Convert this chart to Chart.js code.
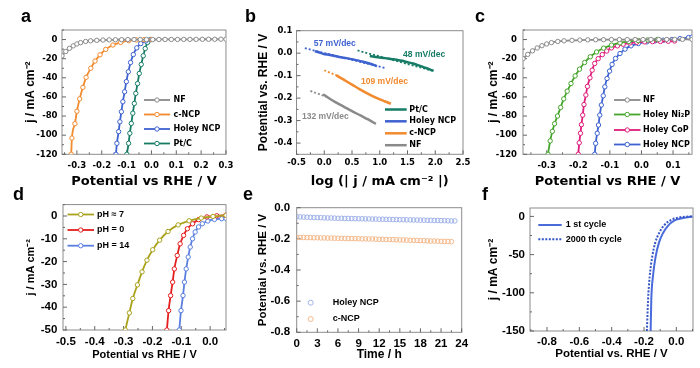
<!DOCTYPE html>
<html>
<head>
<meta charset="utf-8">
<title>HER panels a-f</title>
<script src="https://cdn.jsdelivr.net/npm/chart.js@4.4.1/dist/chart.umd.min.js"></script>
<style>
  html, body { margin: 0; padding: 0; background: #fff; }
  #fig { position: relative; width: 700px; height: 368px; overflow: hidden; background: #fff; }
  #fig canvas { position: absolute; }
  .tag { position: absolute; font: bold 18px "Liberation Sans", Arial, sans-serif; line-height: 18px; color: #000; }
</style>
</head>
<body>
<div id="fig">
  <canvas id="pa" width="240" height="190" style="left:0px;top:0px"></canvas>
  <canvas id="pb" width="244" height="190" style="left:232px;top:0px"></canvas>
  <canvas id="pc" width="238" height="190" style="left:462px;top:0px"></canvas>
  <canvas id="pd" width="240" height="178" style="left:0px;top:190px"></canvas>
  <canvas id="pe" width="244" height="178" style="left:232px;top:190px"></canvas>
  <canvas id="pf" width="238" height="178" style="left:462px;top:190px"></canvas>
  <div class="tag" style="left:21px;top:7px">a</div>
  <div class="tag" style="left:245px;top:7px">b</div>
  <div class="tag" style="left:475px;top:7px">c</div>
  <div class="tag" style="left:13px;top:185px">d</div>
  <div class="tag" style="left:243px;top:185px">e</div>
  <div class="tag" style="left:482px;top:185px">f</div>
</div>
<script>
// --- a: polarization curves ---
const aNF_x = [-0.36,-0.345,-0.33,-0.315,-0.3,-0.285,-0.265,-0.245,-0.22,-0.195,-0.17,-0.145,-0.12,-0.095,-0.07,-0.045,-0.02,0.005,0.03,0.055,0.08,0.105,0.13,0.155,0.18,0.205,0.23,0.255,0.28,0.3];
const aNF_y = [-17,-12.5,-9.2,-6.6,-4.6,-3.2,-2,-1.3,-0.8,-0.5,-0.3,-0.2,-0.1,0,0,0,0,0,0.1,0.1,0.1,0.1,0.2,0.2,0.2,0.3,0.3,0.3,0.4,0.4];
const aCNCP_x = [-0.323,-0.32,-0.308,-0.3,-0.289,-0.276,-0.263,-0.244,-0.227,-0.207,-0.184,-0.155,-0.124,-0.091,-0.06,-0.03,0];
const aCNCP_y = [-120,-103,-88,-75,-62,-50,-39.5,-30,-22.5,-16,-10.3,-5.7,-3,-1.2,-0.4,-0.1,0];
const aHNCP_x = [-0.143,-0.139,-0.132,-0.127,-0.121,-0.115,-0.108,-0.101,-0.093,-0.084,-0.073,-0.059,-0.043,-0.023,-0.003];
const aHNCP_y = [-120,-108.5,-96.3,-86,-75.5,-65,-54.6,-44,-33.7,-24,-15.7,-8.7,-4.2,-1.4,0];
const aPtC_x = [-0.099,-0.092,-0.087,-0.081,-0.075,-0.069,-0.063,-0.056,-0.049,-0.041,-0.033,-0.025,-0.016,-0.005];
const aPtC_y = [-120,-108.5,-98,-87.7,-77,-66.8,-56.3,-46,-35.5,-26,-17,-9.4,-3.1,0];

// --- b: Tafel plots (solid = data, dotted = fit) ---
const bPtC_x = [0.82,0.9,1.0,1.1,1.2,1.3,1.4,1.5,1.6,1.7,1.8,1.9,1.97];
const bPtC_y = [-0.013,-0.016,-0.019,-0.022,-0.026,-0.029,-0.034,-0.040,-0.046,-0.054,-0.063,-0.072,-0.079];
const bPtCFit_x = [0.6, 1.95];
const bPtCFit_y = [0.012, -0.078];
const bHNCP_x = [-0.17,-0.1,-0.02,0.1,0.2,0.3,0.4,0.5,0.6,0.7,0.8,0.9,0.95];
const bHNCP_y = [0.009,0.004,-0.003,-0.008,-0.013,-0.018,-0.022,-0.027,-0.032,-0.038,-0.045,-0.053,-0.058];
const bHNCPFit_x = [-0.35, 1.1];
const bHNCPFit_y = [0.022, -0.066];
const bCNCP_x = [0.22,0.35,0.5,0.65,0.8,0.95,1.1,1.2];
const bCNCP_y = [-0.099,-0.118,-0.14,-0.162,-0.182,-0.2,-0.215,-0.225];
const bCNCPFit_x = [0.0, 0.27];
const bCNCPFit_y = [-0.076, -0.104];
const bNF_x = [-0.02,0.1,0.2,0.35,0.5,0.65,0.8,0.93];
const bNF_y = [-0.183,-0.203,-0.218,-0.238,-0.258,-0.277,-0.296,-0.315];
const bNFFit_x = [-0.25, 0.05];
const bNFFit_y = [-0.168, -0.195];
const bSlopes = ['57 mV/dec', '48 mV/dec', '109 mV/dec', '132 mV/dec'];
const bSlopeAt_x = [0.19, 1.8, 1.085, 0.02];
const bSlopeAt_y = [0.042, -0.007, -0.126, -0.284];

// --- c: phosphide comparison ---
const cNF_x = [-0.375,-0.36,-0.345,-0.33,-0.315,-0.3,-0.285,-0.265,-0.245,-0.22,-0.195,-0.17,-0.145,-0.12,-0.095,-0.07,-0.045,-0.02,0.005,0.03,0.055,0.08,0.105,0.13,0.16];
const cNF_y = [-20,-15.5,-11.8,-8.8,-6.4,-4.6,-3.2,-2,-1.3,-0.8,-0.5,-0.3,-0.2,-0.1,0,0,0,0,0,0.1,0.1,0.1,0.1,0.2,0.2];
const cNi2P_x = [-0.296,-0.289,-0.282,-0.275,-0.266,-0.256,-0.246,-0.235,-0.223,-0.21,-0.196,-0.18,-0.162,-0.142,-0.12,-0.095,-0.068,-0.04,-0.01,0.02,0.05];
const cNi2P_y = [-120,-106,-96,-88,-80,-71,-62,-54,-46,-38,-31,-24,-18,-13,-9,-5.8,-3.5,-2,-1,-0.4,0];
const cCoP_x = [-0.2,-0.197,-0.193,-0.19,-0.186,-0.182,-0.176,-0.171,-0.163,-0.156,-0.148,-0.137,-0.124,-0.11,-0.095,-0.076,-0.058,-0.037,-0.015,0.01,0.035,0.06,0.085,0.105];
const cCoP_y = [-120,-108,-98,-89,-79,-68,-58,-49,-40,-32,-25,-20,-15.7,-12,-8.7,-6.6,-4.9,-3.6,-2.8,-2.4,-2.2,-2,-1.8,-1.5];
const cHNCP_x = [-0.148,-0.145,-0.14,-0.136,-0.132,-0.127,-0.121,-0.116,-0.109,-0.101,-0.093,-0.082,-0.068,-0.052,-0.033,-0.01,0.017,0.043,0.069,0.096,0.122,0.149,0.16];
const cHNCP_y = [-120,-108.5,-98,-89.4,-79,-68.5,-58.8,-49.4,-40.7,-33,-26,-19.8,-14.6,-10,-6.6,-4.2,-2.4,-1.4,-0.7,0,1,2.1,2.5];

// --- d: pH dependence ---
const dPH7_x = [-0.294,-0.28,-0.268,-0.252,-0.236,-0.219,-0.199,-0.175,-0.146,-0.111,-0.073,-0.031,0.01,0.055];
const dPH7_y = [-50,-42.5,-36.2,-30.2,-24.5,-19.4,-14.8,-10.6,-6.8,-3.9,-2.1,-0.9,-0.2,0.3];
const dPH0_x = [-0.15,-0.144,-0.137,-0.13,-0.124,-0.114,-0.104,-0.092,-0.079,-0.061,-0.04,-0.011,0.023,0.054];
const dPH0_y = [-50,-41.5,-34.9,-29,-23.2,-17.3,-12.2,-8.5,-5.6,-3.4,-1.6,-0.4,0.1,0.3];
const dPH14_x = [-0.107,-0.101,-0.094,-0.089,-0.083,-0.076,-0.069,-0.061,-0.052,-0.04,-0.027,-0.008,0.015,0.04,0.055];
const dPH14_y = [-50,-41.5,-34.9,-29,-23.2,-18,-13.6,-10,-7,-4.8,-3.4,-2.2,-1.5,-1.2,-1];

// --- e: chronopotentiometry ---
const eTime = [0,0.5,1,1.5,2,2.5,3,3.5,4,4.5,5,5.5,6,6.5,7,7.5,8,8.5,9,9.5,10,10.5,11,11.5,12,12.5,13,13.5,14,14.5,15,15.5,16,16.5,17,17.5,18,18.5,19,19.5,20,20.5,21,21.5,22,22.5,23];
const eHNCP = [-0.058,-0.059,-0.060,-0.061,-0.062,-0.063,-0.064,-0.064,-0.065,-0.066,
  -0.066,-0.067,-0.068,-0.068,-0.069,-0.069,-0.070,-0.070,-0.071,-0.071,
  -0.072,-0.072,-0.073,-0.073,-0.074,-0.074,-0.075,-0.075,-0.076,-0.076,
  -0.077,-0.077,-0.078,-0.078,-0.079,-0.079,-0.080,-0.080,-0.081,-0.081,
  -0.082,-0.082,-0.083,-0.083,-0.084,-0.085,-0.085];
const eCNCP = [-0.190,-0.191,-0.191,-0.192,-0.192,-0.193,-0.193,-0.194,-0.194,-0.195,
  -0.195,-0.196,-0.196,-0.197,-0.197,-0.198,-0.198,-0.199,-0.199,-0.200,
  -0.200,-0.201,-0.201,-0.202,-0.203,-0.203,-0.204,-0.205,-0.205,-0.206,
  -0.207,-0.207,-0.208,-0.209,-0.210,-0.210,-0.211,-0.212,-0.213,-0.214,
  -0.214,-0.215,-0.216,-0.217,-0.217,-0.218];

// --- f: cycling stability ---
const f1st_x = [-0.159,-0.155,-0.145,-0.128,-0.107,-0.083,-0.052,-0.011,0.041,0.1];
const f1st_y = [-150,-109.6,-79,-52.6,-34,-22,-12.3,-5.3,-2.2,0];
const f2000_x = [-0.182,-0.175,-0.165,-0.149,-0.13,-0.107,-0.078,-0.031,0.031,0.1];
const f2000_y = [-150,-109.6,-79,-52.6,-34,-22,-12.3,-4.4,-0.9,0];

const C = {
    nf: '#8a8a8a', cncp: '#f28a2e', hncp: '#3e62d0', ptc: '#167c66',
    ni2p: '#45a52b', cop: '#e01c7c', ph7: '#aaa21c', ph0: '#e41e1e', ph14: '#5a7fe0',
    eBlue: '#9fb2e8', eOrange: '#f3b98c', f: '#4a6bdc'
};
const WIDE = '"DejaVu Sans", sans-serif';
const ARIAL = '"Liberation Sans", Arial, sans-serif';

const pts = (xs, ys) => xs.map((x, i) => ({ x: x, y: ys[i] }));

function marked(xs, ys, color) {
    return {
        data: pts(xs, ys), borderColor: color, borderWidth: 1.8, cubicInterpolationMode: 'monotone',
        pointRadius: 2.2, pointBorderWidth: 1, pointBackgroundColor: '#fff', pointBorderColor: color
    };
}
function plain(xs, ys, color, width, dash) {
    return {
        data: pts(xs, ys), borderColor: color, borderWidth: width, borderDash: dash || [],
        pointRadius: 0, cubicInterpolationMode: 'monotone'
    };
}
function dots(xs, ys, color) {
    return {
        data: pts(xs, ys), showLine: false, borderColor: color,
        pointRadius: 2.3, pointBorderWidth: 1, pointBackgroundColor: 'rgba(0,0,0,0)', pointBorderColor: color
    };
}

function fmt(dec) {
    return v => (Math.abs(v) < 1e-9 ? 0 : v).toFixed(dec);
}

function axis(pos, o) {
    return {
        type: 'linear', position: pos, min: o.min, max: o.max,
        grid: { display: false, drawTicks: false },
        border: { display: false },
        ticks: {
            stepSize: o.step, includeBounds: false, autoSkip: false, maxRotation: 0, padding: o.pad,
            color: '#000', font: { family: o.tf, size: o.ts, weight: 'bold' }, callback: fmt(o.dec)
        },
        title: {
            display: true, text: o.title, color: '#000', padding: o.tpad,
            font: { family: o.ff, size: o.fs, weight: 'bold' }
        },
        afterFit: s => { if (pos === 'left') s.width = o.room; else s.height = o.room; }
    };
}

// legends drawn inside plot areas (canvas coords)
const KEYS = {
    pa: { x1: 144, x2: 170, tx: 173.5, font: 'bold 8px ' + WIDE, rows: [
        { t: 'NF', c: C.nf, y: 100, m: 2.2 },
        { t: 'c-NCP', c: C.cncp, y: 114.5, m: 2.2 },
        { t: 'Holey NCP', c: C.hncp, y: 129, m: 2.2 },
        { t: 'Pt/C', c: C.ptc, y: 143.5, m: 2.2 }
    ] },
    pb: { x1: 153, x2: 174.7, tx: 177.3, font: 'bold 8px ' + WIDE, rows: [
        { t: 'Pt/C', c: C.ptc, y: 109.5, w: 2.5 },
        { t: 'Holey NCP', c: C.hncp, y: 121.3, w: 2.5 },
        { t: 'c-NCP', c: C.cncp, y: 133.3, w: 2.5 },
        { t: 'NF', c: C.nf, y: 145.2, w: 2.5 }
    ] },
    pc: { x1: 152, x2: 178.5, tx: 181, font: 'bold 8px ' + WIDE, rows: [
        { t: 'NF', c: C.nf, y: 100, m: 2.2 },
        { t: 'Holey Ni₂P', c: C.ni2p, y: 114.5, m: 2.2 },
        { t: 'Holey CoP', c: C.cop, y: 130, m: 2.2 },
        { t: 'Holey NCP', c: C.hncp, y: 144.5, m: 2.2 }
    ] },
    pd: { x1: 67.5, x2: 94, tx: 97, font: 'bold 9px ' + ARIAL, rows: [
        { t: 'pH ≈ 7', c: C.ph7, y: 24.5, m: 2.2 },
        { t: 'pH = 0', c: C.ph0, y: 40, m: 2.2 },
        { t: 'pH = 14', c: C.ph14, y: 55.7, m: 2.2 }
    ] },
    pe: { x1: 78.7, x2: 78.7, tx: 100.7, font: 'bold 9px ' + ARIAL, rows: [
        { t: 'Holey NCP', c: C.eBlue, y: 112.7, m: 2.5 },
        { t: 'c-NCP', c: C.eOrange, y: 129, m: 2.5 }
    ] },
    pf: { x1: 76.3, x2: 99.7, tx: 103.7, font: 'bold 9px ' + ARIAL, rows: [
        { t: '1 st cycle', c: C.f, y: 35, w: 2 },
        { t: '2000 th cycle', c: '#3556c4', y: 49.3, w: 2, dash: [2, 1.5] }
    ] }
};

Chart.register({
    id: 'frame',
    beforeDatasetsDraw(chart) {
        const { ctx, chartArea: a, scales } = chart;
        ctx.save();
        ctx.lineWidth = 1;
        ctx.strokeStyle = '#8c8c8c';
        ctx.strokeRect(a.left, a.top, a.right - a.left, a.bottom - a.top);
        ctx.strokeStyle = '#666';
        ['x', 'y'].forEach(id => {
            const s = scales[id];
            const v = s.ticks.map(t => t.value);
            const h = (v[1] - v[0]) / 2;
            const marks = [[v[0] - h, 2]];
            v.forEach(val => { marks.push([val, 4]); marks.push([val + h, 2]); });
            marks.forEach(([val, len]) => {
                const p = s.getPixelForValue(val);
                ctx.beginPath();
                if (id === 'x') {
                    if (p < a.left || p > a.right) return;
                    ctx.moveTo(p, a.bottom); ctx.lineTo(p, a.bottom - len);
                } else {
                    if (p < a.top || p > a.bottom) return;
                    ctx.moveTo(a.left, p); ctx.lineTo(a.left + len, p);
                }
                ctx.stroke();
            });
        });
        ctx.restore();
    }
});

Chart.register({
    id: 'keys',
    afterDatasetsDraw(chart) {
        const k = KEYS[chart.canvas.id];
        const ctx = chart.ctx;
        ctx.save();
        if (k) {
            ctx.font = k.font;
            ctx.textBaseline = 'middle';
            k.rows.forEach(r => {
                if (k.x2 > k.x1) {
                    ctx.strokeStyle = r.c; ctx.lineWidth = r.w || 1.8; ctx.setLineDash(r.dash || []);
                    ctx.beginPath(); ctx.moveTo(k.x1, r.y); ctx.lineTo(k.x2, r.y); ctx.stroke();
                    ctx.setLineDash([]);
                }
                if (r.m) {
                    ctx.beginPath(); ctx.arc((k.x1 + k.x2) / 2, r.y, r.m, 0, Math.PI * 2);
                    ctx.fillStyle = '#fff'; ctx.fill();
                    ctx.lineWidth = 1; ctx.strokeStyle = r.c; ctx.stroke();
                }
                ctx.fillStyle = '#000';
                ctx.fillText(r.t, k.tx, r.y);
            });
        }
        // slope labels for panel b
        if (chart.canvas.id === 'pb') {
            const cols = [C.hncp, C.ptc, C.cncp, C.nf];
            ctx.font = 'bold 8.5px ' + ARIAL;
            ctx.textAlign = 'center';
            ctx.textBaseline = 'middle';
            bSlopes.forEach((t, i) => {
                ctx.fillStyle = cols[i];
                ctx.fillText(t, chart.scales.x.getPixelForValue(bSlopeAt_x[i]), chart.scales.y.getPixelForValue(bSlopeAt_y[i]));
            });
        }
        ctx.restore();
    }
});

function panel(id, datasets, x, y, top, right) {
    return new Chart(document.getElementById(id), {
        type: 'line',
        data: { datasets: datasets },
        options: {
            responsive: false, animation: false, devicePixelRatio: 1,
            layout: { padding: { top: top, right: right, left: 0, bottom: 0 } },
            scales: { x: axis('bottom', x), y: axis('left', y) },
            plugins: { legend: { display: false }, tooltip: { enabled: false } }
        }
    });
}

const JT = 'j / mA cm⁻²';

panel('pa', [
    marked(aNF_x, aNF_y, C.nf),
    marked(aCNCP_x, aCNCP_y, C.cncp),
    marked(aHNCP_x, aHNCP_y, C.hncp),
    marked(aPtC_x, aPtC_y, C.ptc)
], { min: -0.36, max: 0.3, step: 0.1, dec: 1, tf: WIDE, ts: 8.5, pad: 6.5, title: 'Potential vs RHE / V', ff: WIDE, fs: 13, tpad: 1, room: 35.7 },
   { min: -120, max: 10, step: 20, dec: 0, tf: WIDE, ts: 8.5, pad: 4.5, title: JT, ff: ARIAL, fs: 12, tpad: 23, room: 62 },
   30, 14);

panel('pb', [
    plain(bPtCFit_x, bPtCFit_y, C.ptc, 1.8, [2, 2]),
    plain(bHNCPFit_x, bHNCPFit_y, C.hncp, 1.8, [2, 2]),
    plain(bCNCPFit_x, bCNCPFit_y, C.cncp, 1.8, [2, 2]),
    plain(bNFFit_x, bNFFit_y, C.nf, 1.8, [2, 2]),
    plain(bPtC_x, bPtC_y, C.ptc, 2.5),
    plain(bHNCP_x, bHNCP_y, C.hncp, 2.5),
    plain(bCNCP_x, bCNCP_y, C.cncp, 2.5),
    plain(bNF_x, bNF_y, C.nf, 2.5)
], { min: -0.5, max: 2.5, step: 0.5, dec: 1, tf: WIDE, ts: 8.5, pad: 3, title: 'log (| j / mA cm⁻² |)', ff: WIDE, fs: 13, tpad: 1, room: 35.7 },
   { min: -0.45, max: 0.1, step: 0.1, dec: 1, tf: WIDE, ts: 8.5, pad: 4, title: 'Potential vs. RHE / V', ff: ARIAL, fs: 12, tpad: 24, room: 64.5 },
   30.7, 13);

panel('pc', [
    marked(cNF_x, cNF_y, C.nf),
    marked(cNi2P_x, cNi2P_y, C.ni2p),
    marked(cCoP_x, cCoP_y, C.cop),
    marked(cHNCP_x, cHNCP_y, C.hncp)
], { min: -0.375, max: 0.16, step: 0.1, dec: 1, tf: WIDE, ts: 8.5, pad: 6, title: 'Potential vs RHE / V', ff: WIDE, fs: 13, tpad: 1, room: 35.7 },
   { min: -120, max: 10, step: 20, dec: 0, tf: WIDE, ts: 8.5, pad: 6, title: JT, ff: ARIAL, fs: 12, tpad: 24, room: 61 },
   30, 8);

panel('pd', [
    marked(dPH7_x, dPH7_y, C.ph7),
    marked(dPH0_x, dPH0_y, C.ph0),
    marked(dPH14_x, dPH14_y, C.ph14)
], { min: -0.51, max: 0.055, step: 0.1, dec: 1, tf: ARIAL, ts: 11.5, pad: 5, title: 'Potential vs RHE / V', ff: ARIAL, fs: 11, tpad: 6, room: 38 },
   { min: -50, max: 5, step: 10, dec: 0, tf: ARIAL, ts: 11.5, pad: 5.7, title: JT, ff: ARIAL, fs: 11, tpad: 24, room: 63 },
   14.6, 14);

panel('pe', [
    dots(eTime, eHNCP, C.eBlue),
    dots(eTime.slice(0, eCNCP.length), eCNCP, C.eOrange)
], { min: 0, max: 24, step: 3, dec: 0, tf: ARIAL, ts: 11.5, pad: 4.8, title: 'Time / h', ff: ARIAL, fs: 12, tpad: 6.5, room: 35.7 },
   { min: -0.8, max: 0, step: 0.2, dec: 1, tf: ARIAL, ts: 11.5, pad: 6.5, title: 'Potential vs. RHE / V', ff: ARIAL, fs: 11.5, tpad: 24.4, room: 64.7 },
   17.7, 14.3);

panel('pf', [
    plain(f2000_x, f2000_y, '#3556c4', 2, [2, 1.5]),
    plain(f1st_x, f1st_y, C.f, 2)
], { min: -0.905, max: 0.103, step: 0.2, dec: 1, tf: ARIAL, ts: 11.5, pad: 3.8, title: 'Potential vs. RHE / V', ff: ARIAL, fs: 11.5, tpad: 7, room: 37 },
   { min: -150, max: 11, step: 50, dec: 0, tf: ARIAL, ts: 11.5, pad: 5, title: JT, ff: ARIAL, fs: 12, tpad: 24, room: 68 },
   18, 7);
</script>
</body>
</html>
